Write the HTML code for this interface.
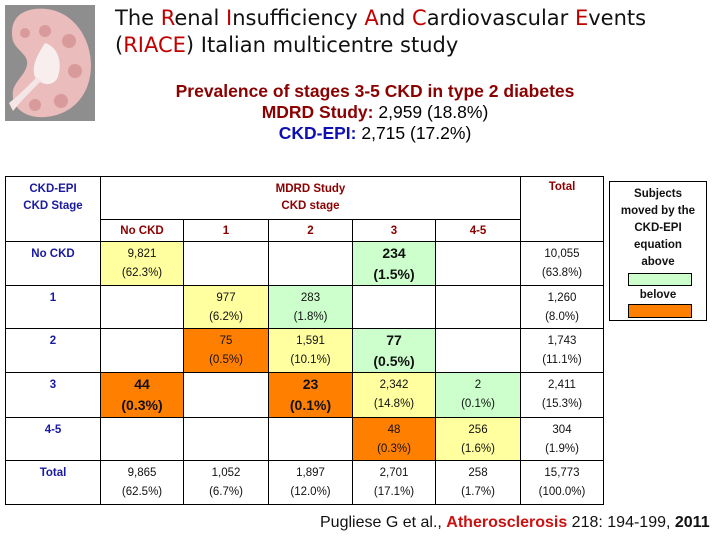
<!DOCTYPE html>
<html><head><meta charset="utf-8">
<style>
body{margin:0;width:720px;height:540px;background:#fff;position:relative;overflow:hidden;font-family:"Liberation Sans",sans-serif}
.a{position:absolute}
.cell{position:absolute;border:1px solid #000;box-sizing:border-box;text-align:center;font-size:11.5px;color:#111}
.t1{position:absolute;left:0;right:0;top:5px;line-height:14px}
.t2{position:absolute;left:0;right:0;top:24px;line-height:14px}
.big .t1{font-weight:bold;font-size:14px;top:2px;line-height:18px}
.big .t2{font-weight:bold;font-size:14px;top:23px;line-height:18px}
.red{color:#c00000}
.dr{color:#8b0000;font-weight:bold}
.bl{color:#1a1aa0;font-weight:bold}
</style></head><body>
<svg class="a" style="left:5px;top:5px" width="90" height="116">
<rect width="90" height="116" fill="#8e8e8e"/>
<path d="M30 4 C64 0 86 30 86 60 C86 94 62 114 32 112 C14 110 6 98 8 86 C10 76 20 70 22 60 C24 50 12 46 8 36 C4 18 12 6 30 4Z" fill="#eabcbc"/>
<path d="M40 38 C54 42 58 60 52 74 C46 82 36 80 30 72 C26 62 32 50 40 38Z" fill="#f8eeee"/>
<path d="M4 98 C14 90 22 82 32 72 L36 76 C26 86 16 96 8 106Z" fill="#f4e6e6"/>
<circle cx="40" cy="26" r="6" fill="#d89a9a"/><circle cx="64" cy="36" r="7" fill="#d89a9a"/><circle cx="70" cy="66" r="7" fill="#d89a9a"/><circle cx="56" cy="96" r="7" fill="#d89a9a"/><circle cx="30" cy="100" r="6" fill="#d89a9a"/><circle cx="20" cy="28" r="5" fill="#d89a9a"/>
</svg>
<div class="a" style="left:115px;top:5px;font-family:'DejaVu Sans',sans-serif;font-size:21px;line-height:27px;color:#111;white-space:nowrap">The <span class="red">R</span>enal <span class="red">I</span>nsufficiency <span class="red">A</span>nd <span class="red">C</span>ardiovascular <span class="red">E</span>vents<br>(<span class="red">RIACE</span>) Italian multicentre study</div>
<div class="a" style="left:100px;width:550px;top:81px;text-align:center;font-size:17.5px;line-height:21px;white-space:nowrap">
<div class="dr">Prevalence of stages 3-5 CKD in type 2 diabetes</div>
<div><b class="dr">MDRD Study:</b> 2,959 (18.8%)</div>
<div><b class="bl" style="color:#1010b0">CKD-EPI:</b> 2,715 (17.2%)</div></div>
<div id="tbl"></div>
<div class="a" style="left:609px;top:181px;width:98px;height:140px;border:1px solid #000;box-sizing:border-box;text-align:center;font-size:11.5px;font-weight:bold;line-height:17px;color:#111">
<div style="margin-top:4px">Subjects<br>moved by the<br>CKD-EPI<br>equation<br>above</div>
<div style="position:absolute;left:18px;top:91px;width:64px;height:13px;background:#ccffcc;border:1px solid #000;box-sizing:border-box"></div>
<div style="position:absolute;left:0;right:0;top:105px">belove</div>
<div style="position:absolute;left:18px;top:122px;width:64px;height:14px;background:#ff8000;border:1px solid #000;box-sizing:border-box"></div>
</div>
<div class="a" style="left:320px;top:514px;font-size:16px;white-space:nowrap;color:#111">Pugliese G et al., <b style="color:#cc1111">Atherosclerosis</b> 218: 194-199, <b>2011</b></div>
<script>
const colX=[5,100,183,268,352,435,520,603];
const rowY=[176,219,241,285,328,372,417,460,504];
const rowLabels=["No CKD","1","2","3","4-5","Total"];
const colLabels=["No CKD","1","2","3","4-5"];
const Y="#ffffa0",G="#ccffcc",O="#ff8000";
const cells=[
[["9,821","(62.3%)",Y],null,null,["234","(1.5%)",G,1],null,["10,055","(63.8%)"]],
[null,["977","(6.2%)",Y],["283","(1.8%)",G],null,null,["1,260","(8.0%)"]],
[null,["75","(0.5%)",O],["1,591","(10.1%)",Y],["77","(0.5%)",G,1],null,["1,743","(11.1%)"]],
[["44","(0.3%)",O,1],null,["23","(0.1%)",O,1],["2,342","(14.8%)",Y],["2","(0.1%)",G],["2,411","(15.3%)"]],
[null,null,null,["48","(0.3%)",O],["256","(1.6%)",Y],["304","(1.9%)"]],
[["9,865","(62.5%)"],["1,052","(6.7%)"],["1,897","(12.0%)"],["2,701","(17.1%)"],["258","(1.7%)"],["15,773","(100.0%)"]]
];
const tbl=document.getElementById('tbl');
function box(x0,y0,x1,y1,html,cls,bg){
  const d=document.createElement('div');
  d.className='cell '+(cls||'');
  d.style.left=(x0)+'px';d.style.top=y0+'px';
  d.style.width=(x1-x0+1)+'px';d.style.height=(y1-y0+1)+'px';
  if(bg)d.style.background=bg;
  d.innerHTML=html;tbl.appendChild(d);return d;
}
let e=box(colX[0],rowY[0],colX[1],rowY[2],'<div style="position:absolute;left:0;right:0;top:4px;line-height:17px" class="bl">CKD-EPI<br>CKD Stage</div>');


e=box(colX[1],rowY[0],colX[6],rowY[1],'<div style="position:absolute;left:0;right:0;top:4px;line-height:17px" class="dr">MDRD Study<br>CKD stage</div>');


e=box(colX[6],rowY[0],colX[7],rowY[2],'<div style="position:absolute;left:0;right:0;top:4px" class="dr">Total</div>');


colLabels.forEach((c,i)=>{
  const h=box(colX[i+1],rowY[1],colX[i+2],rowY[2],'<div class="t1 dr" style="top:4px">'+c+'</div>');
  
  
});
rowLabels.forEach((r,ri)=>{
  const y0=rowY[ri+2],y1=rowY[ri+3];
  const l=box(colX[0],y0,colX[1],y1,'<div class="t1 bl">'+r+'</div>');
  
  
  cells[ri].forEach((c,ci)=>{
    const html=c?'<div class="t1">'+c[0]+'</div><div class="t2">'+c[1]+'</div>':'';
    const d=box(colX[ci+1],y0,colX[ci+2],y1,html,c&&c[3]?'big':'',c?c[2]:null);
    
    
  });
});
</script>
</body></html>
